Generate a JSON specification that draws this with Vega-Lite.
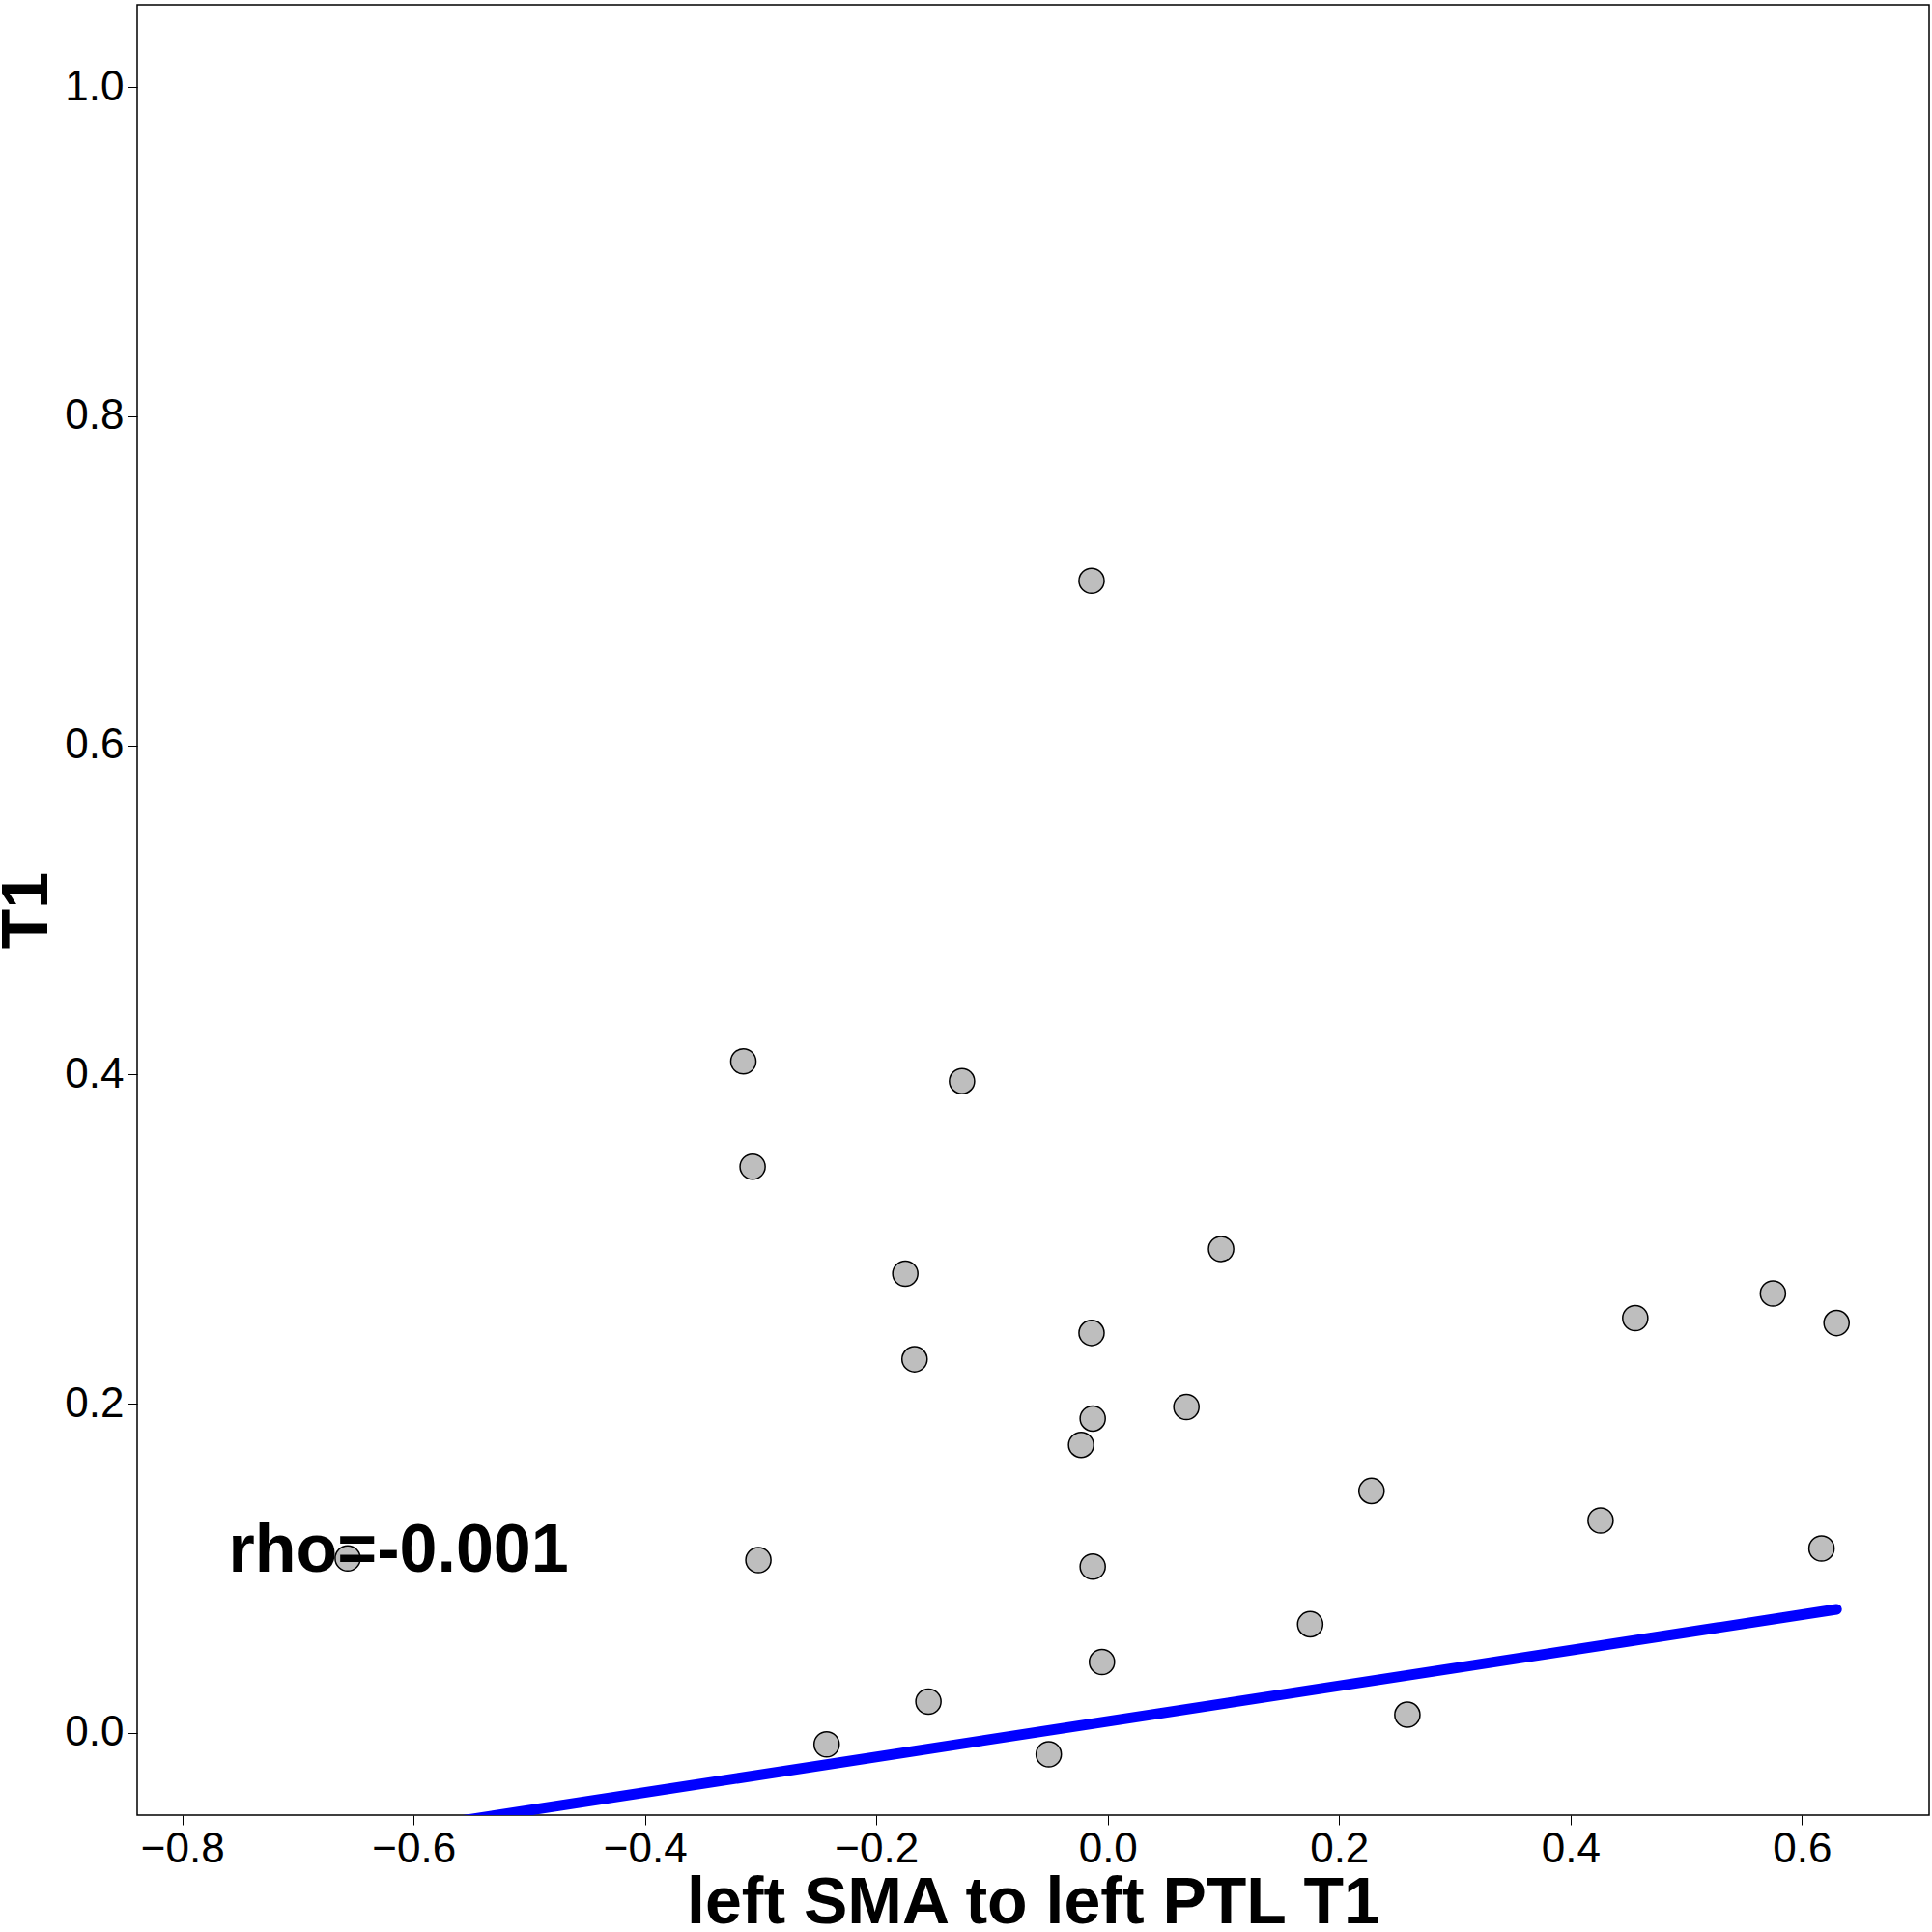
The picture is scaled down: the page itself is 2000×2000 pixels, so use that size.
{
  "$schema": "https://vega.github.io/schema/vega-lite/v6.json",
  "autosize": {"type": "none"},
  "width": 1855,
  "height": 1874,
  "padding": {"left": 142, "top": 5, "right": 3, "bottom": 121},
  "background": "white",
  "config": {
    "font": "Liberation Sans",
    "view": {"stroke": "black", "strokeWidth": 1.5},
    "axis": {"grid": false, "domain": false, "tickColor": "black", "tickSize": 10, "labelFontSize": 44, "labelColor": "black", "labelFont": "Liberation Sans", "titleFont": "Liberation Sans", "titleFontSize": 68, "titleFontWeight": "bold", "titleColor": "black"}
  },
  "datasets": {
    "pts": [
      {"x": -0.657, "y": 0.106}, {"x": -0.315, "y": 0.408}, {"x": -0.307, "y": 0.344},
      {"x": -0.302, "y": 0.105}, {"x": -0.243, "y": -0.007}, {"x": -0.175, "y": 0.279},
      {"x": -0.167, "y": 0.227}, {"x": -0.155, "y": 0.019}, {"x": -0.126, "y": 0.396},
      {"x": -0.051, "y": -0.013}, {"x": -0.023, "y": 0.175}, {"x": -0.014, "y": 0.700},
      {"x": -0.014, "y": 0.243}, {"x": -0.013, "y": 0.191}, {"x": -0.013, "y": 0.101},
      {"x": -0.005, "y": 0.043}, {"x": 0.068, "y": 0.198}, {"x": 0.098, "y": 0.294},
      {"x": 0.175, "y": 0.066}, {"x": 0.228, "y": 0.147}, {"x": 0.259, "y": 0.011},
      {"x": 0.426, "y": 0.129}, {"x": 0.456, "y": 0.252}, {"x": 0.575, "y": 0.267},
      {"x": 0.617, "y": 0.112}, {"x": 0.630, "y": 0.249}
    ],
    "fit": [{"x": -0.657, "y": -0.064}, {"x": 0.630, "y": 0.075}],
    "label": [{"x": -0.76, "y": 0.11, "t": "rho=-0.001"}]
  },
  "layer": [
    {
      "data": {"name": "pts"},
      "mark": {"type": "point", "filled": true, "fill": "#bebebe", "stroke": "black", "strokeWidth": 1.5, "size": 680, "opacity": 1},
      "encoding": {
        "x": {"field": "x", "type": "quantitative", "scale": {"domain": [-0.839, 0.71], "nice": false, "zero": false},
              "axis": {"title": "left SMA to left PTL T1", "values": [-0.8, -0.6, -0.4, -0.2, 0, 0.2, 0.4, 0.6], "format": ".1f", "titlePadding": 0, "labelPadding": 3}},
        "y": {"field": "y", "type": "quantitative", "scale": {"domain": [-0.05, 1.05], "nice": false, "zero": false},
              "axis": {"title": "T1", "values": [0, 0.2, 0.4, 0.6, 0.8, 1.0], "format": ".1f", "titlePadding": 4, "labelPadding": 4}}
      }
    },
    {
      "data": {"name": "fit"},
      "mark": {"type": "line", "color": "blue", "strokeWidth": 11, "strokeCap": "round", "clip": true},
      "encoding": {
        "x": {"field": "x", "type": "quantitative"},
        "y": {"field": "y", "type": "quantitative"}
      }
    },
    {
      "data": {"name": "label"},
      "mark": {"type": "text", "align": "left", "baseline": "middle", "fontSize": 70, "fontWeight": "bold", "color": "black"},
      "encoding": {
        "x": {"field": "x", "type": "quantitative"},
        "y": {"field": "y", "type": "quantitative"},
        "text": {"field": "t"}
      }
    }
  ]
}
